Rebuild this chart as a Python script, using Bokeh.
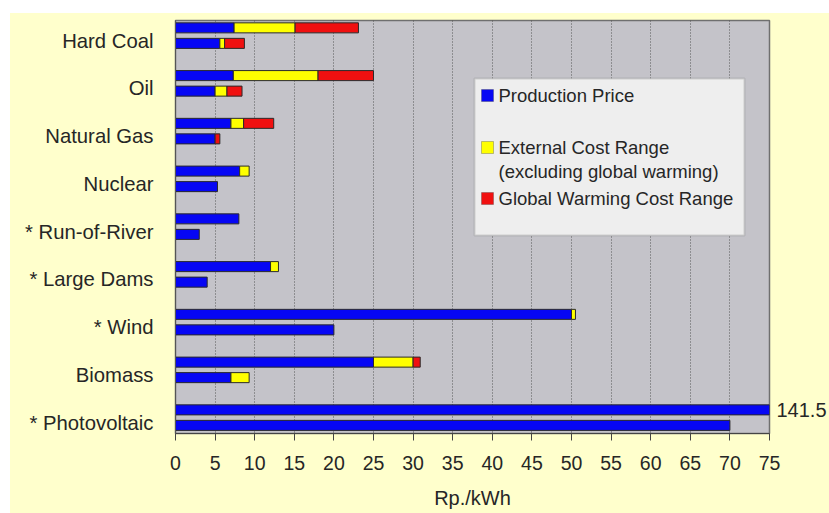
from bokeh.plotting import figure
from bokeh.models import (Range1d, FixedTicker, ColumnDataSource, Label,
                          BoxAnnotation, Spacer, LinearAxis)
from bokeh.layouts import column, row
from bokeh.embed import file_html
from bokeh.resources import INLINE

# Electricity generation cost per technology, Rp./kWh
categories = ["Hard Coal", "Oil", "Natural Gas", "Nuclear", "* Run-of-River",
              "* Large Dams", "* Wind", "Biomass", "* Photovoltaic"]

# upper estimate (first bar of each pair): stacked segment widths
prod_high = [7.4, 7.3, 7.0, 8.1, 8.0, 12.0, 50.0, 25.0, 141.5]
ext_high = [7.7, 10.7, 1.6, 1.2, 0.0, 1.0, 0.5, 5.0, 0.0]
gw_high = [8.0, 7.0, 3.8, 0.0, 0.0, 0.0, 0.0, 0.9, 0.0]

# lower estimate (second bar of each pair)
prod_low = [5.6, 5.0, 5.0, 5.3, 3.0, 4.0, 20.0, 7.0, 70.0]
ext_low = [0.6, 1.5, 0.0, 0.0, 0.0, 0.0, 0.0, 2.3, 0.0]
gw_low = [2.5, 1.9, 0.6, 0.0, 0.0, 0.0, 0.0, 0.0, 0.0]

x_ticks = list(range(0, 80, 5))
series_names = ["Production Price",
                "External Cost Range\n(excluding global warming)",
                "Global Warming Cost Range"]
series_colors = ["#0606f4", "#ffff00", "#f01010"]

FONT = "Liberation Sans"
TEXT = "#262626"
CREAM = "#ffffcc"
X_MAX = 75
BAR_H = 0.21
OFFSETS = (-0.265, 0.06)   # position of the high / low bar relative to the label

# build stacked segments
seg = dict(y=[], left=[], right=[], color=[])
for off, parts in zip(OFFSETS, ((prod_high, ext_high, gw_high),
                                (prod_low, ext_low, gw_low))):
    for i in range(len(categories)):
        left = 0.0
        for k, vals in enumerate(parts):
            w = vals[i]
            if w > 0:
                seg["y"].append(i + off)
                seg["left"].append(left)
                seg["right"].append(left + w)
                seg["color"].append(series_colors[k])
            left += w
src = ColumnDataSource(seg)

p = figure(width=819, height=500, title=None,
           x_range=Range1d(0, X_MAX),
           y_range=Range1d(len(categories) - 1 + 0.23, -0.419),
           output_backend="svg", toolbar_location=None,
           min_border_left=165, min_border_right=59,
           min_border_top=7, min_border_bottom=80)
p.background_fill_color = "#c4c3c9"
p.border_fill_color = CREAM
p.outline_line_color = "#6f6f6f"
p.outline_line_width = 1.5

p.hbar(y="y", left="left", right="right", height=BAR_H, fill_color="color",
       line_color="#2a2a2a", line_width=1, source=src)

# grid
p.ygrid.visible = False
p.xgrid.ticker = FixedTicker(ticks=x_ticks)
p.xgrid.grid_line_color = "#3c3c3c"
p.xgrid.grid_line_dash = "1 2"
p.xgrid.grid_line_alpha = 0.8

# x axis
xa = p.xaxis[0]
xa.ticker = FixedTicker(ticks=x_ticks)
xa.axis_label = "Rp./kWh"
xa.axis_label_text_font = FONT
xa.axis_label_text_font_style = "normal"
xa.axis_label_text_font_size = "20px"
xa.axis_label_text_color = TEXT
xa.axis_label_standoff = 14
xa.major_label_text_font = FONT
xa.major_label_text_font_size = "19.5px"
xa.major_label_text_color = TEXT
xa.major_label_standoff = 15
xa.major_tick_in = 0
xa.major_tick_out = 7
xa.major_tick_line_color = "#444444"
xa.minor_tick_line_color = None
xa.axis_line_color = "#444444"

# y axis
ya = p.yaxis[0]
ya.ticker = FixedTicker(ticks=list(range(len(categories))))
ya.major_label_overrides = {i: c for i, c in enumerate(categories)}
ya.major_label_text_font = FONT
ya.major_label_text_font_size = "20.3px"
ya.major_label_text_color = TEXT
ya.major_label_standoff = 22
ya.major_tick_in = 0
ya.major_tick_out = 0
ya.minor_tick_line_color = None
ya.axis_line_color = "#555555"

# value of the photovoltaic bar that runs past the axis end, on a right-hand axis
pv_total = prod_high[-1] + ext_high[-1] + gw_high[-1]
pv_pos = len(categories) - 1 + OFFSETS[0]
ra = LinearAxis(ticker=FixedTicker(ticks=[pv_pos]),
                major_label_overrides={pv_pos: f"{pv_total:g}"},
                major_label_text_font=FONT, major_label_text_font_size="20px",
                major_label_text_color=TEXT, major_label_standoff=7,
                major_tick_in=0, major_tick_out=0,
                minor_tick_line_color=None, axis_line_color=None)
p.add_layout(ra, "right")

# legend box (screen units from the frame's lower-left corner)
LX, LTOP, LBOT, LRIGHT = 299, 355, 198, 569
p.add_layout(BoxAnnotation(left=LX, right=LRIGHT, top=LTOP, bottom=LBOT,
                           left_units="screen", right_units="screen",
                           top_units="screen", bottom_units="screen",
                           fill_color="#eeeeee", fill_alpha=1,
                           line_color="#858585", line_width=2))
entry_rows = [338, 286, 235]
for name, color, ty in zip(series_names, series_colors, entry_rows):
    p.add_layout(BoxAnnotation(left=LX + 7, right=LX + 19, top=ty + 6, bottom=ty - 6,
                               left_units="screen", right_units="screen",
                               top_units="screen", bottom_units="screen",
                               fill_color=color, fill_alpha=1,
                               line_color="#333333", line_width=1))
    for j, line in enumerate(name.split("\n")):
        p.add_layout(Label(x=LX + 24, y=ty - 24 * j, x_units="screen", y_units="screen",
                           text=line, text_font=FONT, text_font_size="18.5px",
                           text_color=TEXT, text_baseline="middle"))

white = {"background-color": "white"}
cream = {"background-color": CREAM}
layout = column(Spacer(height=13, width=829, styles=white),
                row(Spacer(width=10, height=500, styles=white), p,
                    width=829, height=500, styles=cream),
                width=829, height=513, styles=cream)

open("out.html", "w").write(file_html(layout, INLINE))
